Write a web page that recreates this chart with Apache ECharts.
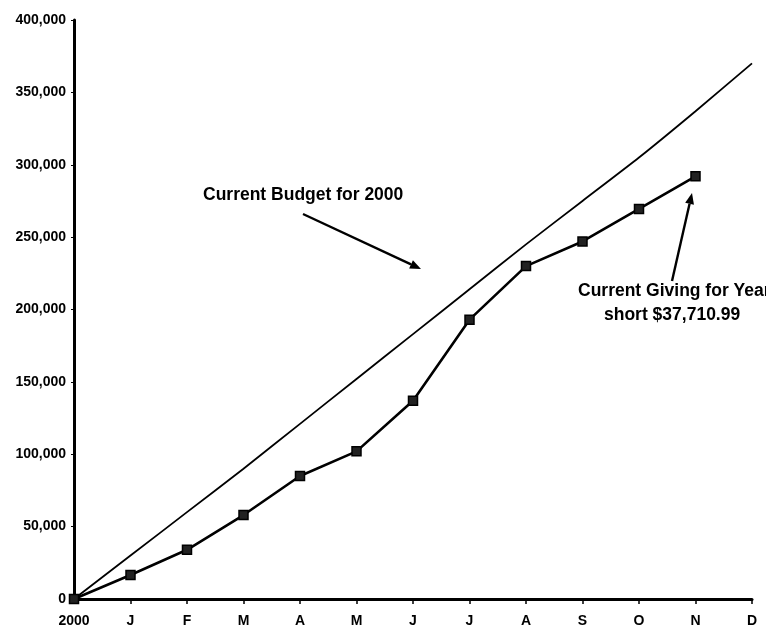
<!DOCTYPE html>
<html>
<head>
<meta charset="utf-8">
<script src="https://cdn.jsdelivr.net/npm/echarts@6/dist/echarts.min.js"></script>
<style>
  html, body { margin: 0; padding: 0; background: #fff; }
  #chart { width: 766px; height: 634px; }
</style>
</head>
<body>
<div id="chart"></div>
<script>
const months = ['2000', 'J', 'F', 'M', 'A', 'M', 'J', 'J', 'A', 'S', 'O', 'N', 'D'];
const budget = [0, 30000, 60000, 90000, 121000, 152000, 183000, 214000, 245000, 275000, 305000, 337000, 370000];
const giving = [0, 16600, 34000, 58000, 85000, 102000, 137000, 193000, 230000, 247000, 269500, 292000, null];
const yTicks = [0, 400000, 50000]; // min, max, step

const font = 'Liberation Sans, Arial, sans-serif';

const chart = echarts.init(document.getElementById('chart'));

// arrow helper for the annotations (pixel positions, not data)
function arrow(x1, y1, x2, y2) {
  const a = Math.atan2(y2 - y1, x2 - x1);
  const len = 11, w = 4.5;
  const bx = x2 - len * Math.cos(a), by = y2 - len * Math.sin(a);
  return [
    { type: 'line', shape: { x1: x1, y1: y1, x2: bx, y2: by }, style: { stroke: '#000', lineWidth: 2.4 } },
    { type: 'polygon', shape: { points: [
        [x2, y2],
        [bx + w * Math.sin(a), by - w * Math.cos(a)],
        [bx - w * Math.sin(a), by + w * Math.cos(a)]
      ] }, style: { fill: '#000' } }
  ];
}

const options = {
  animation: false,
  backgroundColor: '#fff',
  grid: { left: 74, right: 14, top: 20, bottom: 35 },
  xAxis: {
    type: 'category',
    boundaryGap: false,
    data: months,
    axisLine: { lineStyle: { color: '#000', width: 3 } },
    axisTick: { show: true, length: 5, lineStyle: { color: '#000', width: 1.5 } },
    axisLabel: { color: '#000', fontFamily: font, fontWeight: 'bold', fontSize: 14, margin: 15 },
    splitLine: { show: false }
  },
  yAxis: {
    type: 'value',
    min: yTicks[0],
    max: yTicks[1],
    interval: yTicks[2],
    axisLine: { show: true, lineStyle: { color: '#000', width: 3 } },
    axisTick: { show: true, length: 3, lineStyle: { color: '#000', width: 1 } },
    axisLabel: {
      color: '#000', fontFamily: font, fontWeight: 'bold', fontSize: 14, margin: 8,
      formatter: v => v.toLocaleString('en-US')
    },
    splitLine: { show: false }
  },
  series: [
    {
      name: 'Budget',
      type: 'line',
      data: budget,
      showSymbol: false,
      smooth: 0.2,
      lineStyle: { color: '#000', width: 1.8 },
      z: 2
    },
    {
      name: 'Giving',
      type: 'line',
      data: giving,
      symbol: 'rect',
      symbolSize: 9,
      lineStyle: { color: '#000', width: 2.6 },
      itemStyle: { color: '#222', borderColor: '#000', borderWidth: 1.5 },
      z: 3
    }
  ],
  graphic: [
    {
      type: 'text', left: 203, top: 186,
      style: { text: 'Current Budget for 2000', font: 'bold 17.5px ' + font, fill: '#000' }
    },
    {
      type: 'text', left: 578, top: 282,
      style: { text: 'Current Giving for Year', font: 'bold 17.5px ' + font, fill: '#000' }
    },
    {
      type: 'text', left: 604, top: 306,
      style: { text: 'short $37,710.99', font: 'bold 17.5px ' + font, fill: '#000' }
    },
    ...arrow(303, 214, 421, 269),
    ...arrow(672, 281, 692, 193)
  ]
};

chart.setOption(options);
</script>
</body>
</html>
